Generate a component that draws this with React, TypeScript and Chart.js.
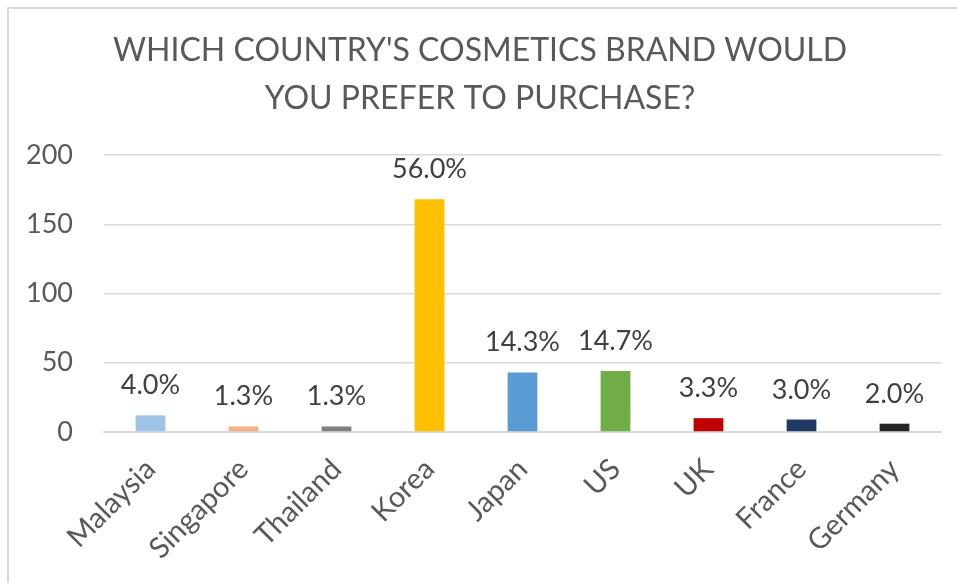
import React, { useEffect, useRef } from "react";
import { Chart, registerables } from "chart.js";

Chart.register(...registerables);

const categories = ["Malaysia", "Singapore", "Thailand", "Korea", "Japan", "US", "UK", "France", "Germany"];
const counts = [12, 4, 4, 168, 43, 44, 10, 9, 6];
const percentLabels = ["4.0%", "1.3%", "1.3%", "56.0%", "14.3%", "14.7%", "3.3%", "3.0%", "2.0%"];
const barColors = ["#9DC3E6", "#F4B183", "#808080", "#FFC000", "#5B9BD5", "#70AD47", "#C00000", "#203864", "#262626"];
const titleLines = ["WHICH COUNTRY'S COSMETICS BRAND WOULD", "YOU PREFER TO PURCHASE?"];
const yTicks = [0, 50, 100, 150, 200];

const FONT = "Lato, 'Open Sans', sans-serif";

export default function App() {
  const ref = useRef<HTMLCanvasElement | null>(null);

  useEffect(() => {
    document.body.style.overflow = "hidden";
    const canvas = ref.current;
    if (!canvas) return;

    const titlePlugin = {
      id: "customTitle",
      afterDraw(chart: any) {
        const ctx = chart.ctx;
        ctx.save();
        ctx.fillStyle = "#595959";
        ctx.font = `32px ${FONT}`;
        ctx.textAlign = "center";
        ctx.textBaseline = "middle";
        titleLines.forEach((line, i) => {
          ctx.fillText(line, 480, 51 + i * 48);
        });
        ctx.restore();
      },
    };

    const labelPlugin = {
      id: "barLabels",
      afterDatasetsDraw(chart: any) {
        const ctx = chart.ctx;
        const meta = chart.getDatasetMeta(0);
        ctx.save();
        ctx.fillStyle = "#404040";
        ctx.font = `27px ${FONT}`;
        ctx.textAlign = "center";
        ctx.textBaseline = "alphabetic";
        meta.data.forEach((bar: any, i: number) => {
          ctx.fillText(percentLabels[i], bar.x, bar.y - 21);
        });
        ctx.restore();
      },
    };

    const chart = new Chart(canvas, {
      type: "bar",
      data: {
        labels: categories,
        datasets: [
          {
            data: counts,
            backgroundColor: barColors,
            borderWidth: 0,
            barPercentage: 0.32,
            categoryPercentage: 1,
          },
        ],
      },
      options: {
        animation: false,
        responsive: false,
        layout: { padding: { top: 155, right: 16, left: 0, bottom: 0 } },
        plugins: {
          legend: { display: false },
          title: { display: false },
          tooltip: { enabled: false },
        },
        scales: {
          x: {
            afterFit(scale: any) {
              scale.height = 151;
            },
            grid: { display: false, drawTicks: false },
            border: { display: true, color: "#d9d9d9", width: 2 },
            ticks: {
              color: "#595959",
              font: { family: FONT, size: 29 },
              maxRotation: 45,
              minRotation: 45,
              padding: 20,
              autoSkip: false,
            },
          },
          y: {
            min: 0,
            max: 200,
            afterBuildTicks(scale: any) {
              scale.ticks = yTicks.map((v) => ({ value: v }));
            },
            afterFit(scale: any) {
              scale.width = 104;
            },
            grid: { color: "#d9d9d9", lineWidth: 1.5, drawTicks: false },
            border: { display: false },
            ticks: {
              color: "#595959",
              font: { family: FONT, size: 27 },
              padding: 31,
            },
          },
        },
      },
      plugins: [titlePlugin, labelPlugin],
    });

    return () => chart.destroy();
  }, []);

  return (
    <div style={{ position: "fixed", left: 0, top: 0, width: 957, height: 583, background: "#fff", overflow: "hidden" }}>
      <div
        style={{
          position: "absolute",
          left: 7,
          top: 7,
          width: 1000,
          height: 1000,
          borderLeft: "2px solid #d9d9d9",
          borderTop: "2px solid #d9d9d9",
        }}
      />
      <canvas ref={ref} width={957} height={583} style={{ position: "absolute", left: 0, top: 0 }} />
    </div>
  );
}
